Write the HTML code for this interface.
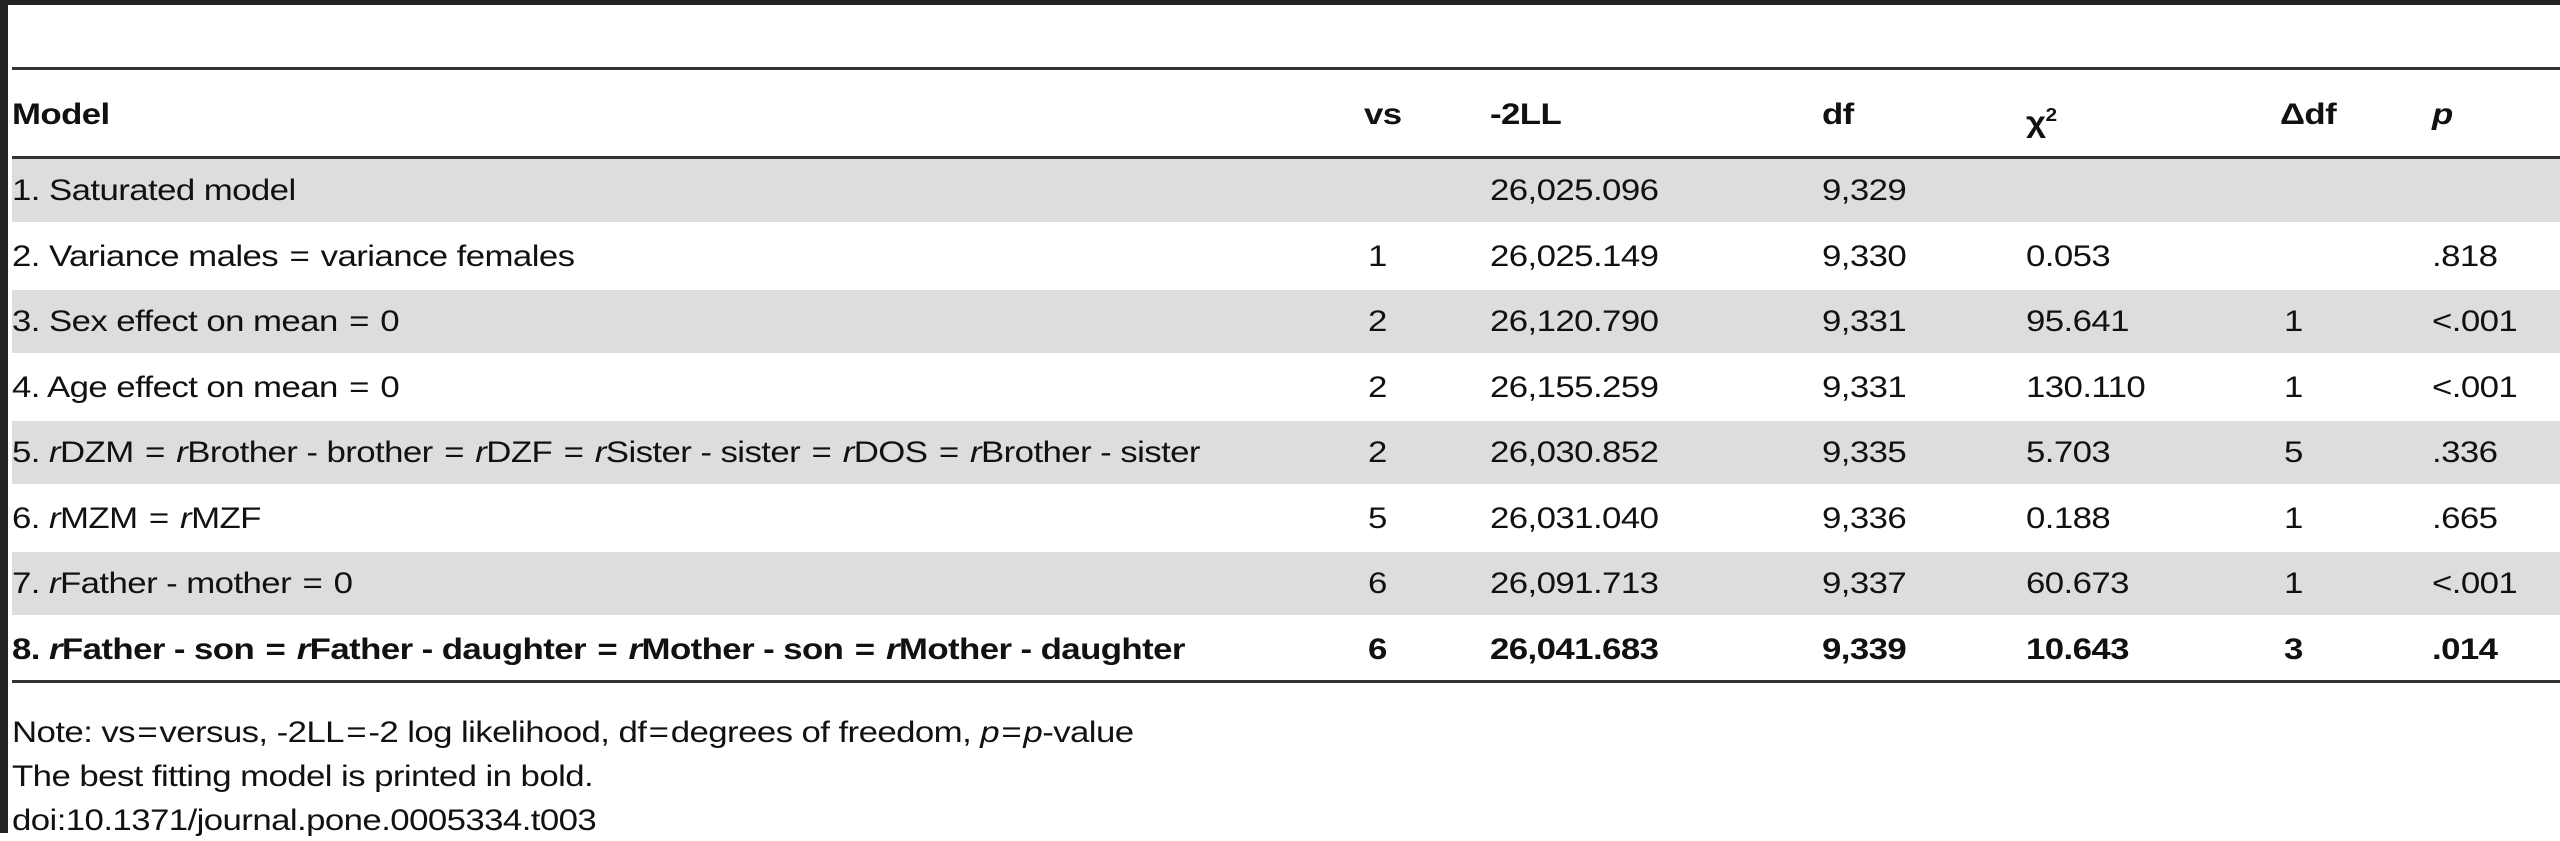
<!DOCTYPE html>
<html><head><meta charset="utf-8"><style>
body{margin:0;width:2560px;height:841px;overflow:hidden;background:#fff;font-family:"Liberation Sans",sans-serif;color:#111;position:relative}
.a{position:absolute;white-space:nowrap}
.t{font-size:30px;letter-spacing:-0.5px;line-height:30px;transform:scaleX(1.16);transform-origin:0 50%}
.hl{position:absolute;left:12px;right:0;height:3px;background:#333}
.row{position:absolute;left:12px;right:0;height:65px}
.g{background:#dcdddf}
.b{font-weight:bold}
.eq{margin:0 2px}
</style></head><body>
<div class="a" style="left:0;top:0;width:2560px;height:5px;background:#222"></div>
<div class="a" style="left:0;top:0;width:8px;height:833px;background:#222"></div>
<div class="hl" style="top:67px"></div>
<div class="hl" style="top:156px"></div>
<div class="hl" style="top:680px"></div>
<div id="hdr"></div>
<div id="body"></div>
<div class="a t" style="left:12px;top:718px">Note: vs<span class="eq">=</span>versus, -2LL<span class="eq">=</span>-2 log likelihood, df<span class="eq">=</span>degrees of freedom, <i>p</i><span class="eq">=</span><i>p</i>-value</div>
<div class="a t" style="left:12px;top:762px">The best fitting model is printed in bold.</div>
<div class="a t" style="left:12px;top:806px">doi:10.1371/journal.pone.0005334.t003</div>
<script>
const colX=[12,1364,1490,1822,2026,2280,2432];
const headers=['Model','vs','-2LL','df','χ<sup style="font-size:18px">2</sup>','Δdf','<i>p</i>'];
const E='<span class="eq">=</span>';
const models=['1. Saturated model','2. Variance males '+E+' variance females','3. Sex effect on mean '+E+' 0','4. Age effect on mean '+E+' 0',
'5. <i>r</i>DZM '+E+' <i>r</i>Brother - brother '+E+' <i>r</i>DZF '+E+' <i>r</i>Sister - sister '+E+' <i>r</i>DOS '+E+' <i>r</i>Brother - sister',
'6. <i>r</i>MZM '+E+' <i>r</i>MZF','7. <i>r</i>Father - mother '+E+' 0',
'8. <i>r</i>Father - son '+E+' <i>r</i>Father - daughter '+E+' <i>r</i>Mother - son '+E+' <i>r</i>Mother - daughter'];
const vs=['','1','2','2','2','5','6','6'];
const ll=['26,025.096','26,025.149','26,120.790','26,155.259','26,030.852','26,031.040','26,091.713','26,041.683'];
const dfs=['9,329','9,330','9,331','9,331','9,335','9,336','9,337','9,339'];
const chi=['','0.053','95.641','130.110','5.703','0.188','60.673','10.643'];
const ddf=['','','1','1','5','1','1','3'];
const pv=['','.818','&lt;.001','&lt;.001','.336','.665','&lt;.001','.014'];
const hdr=document.getElementById('hdr');
headers.forEach((h,i)=>{const d=document.createElement('div');d.className='a t b';d.style.left=colX[i]+'px';d.style.top='100px';d.innerHTML=h;


hdr.appendChild(d);});
const body=document.getElementById('body');
for(let r=0;r<8;r++){
 const top=159+r*65.5;
 const row=document.createElement('div');row.className='row'+(r%2==0?' g':'');row.style.top=top+'px';row.style.height=(r%2==0?63:65)+'px';
 
 
 body.appendChild(row);
 const vals=[models[r],vs[r],ll[r],dfs[r],chi[r],ddf[r],pv[r]];
 vals.forEach((v,i)=>{const d=document.createElement('div');d.className='a t'+(r==7?' b':'');d.style.left=(colX[i]+(i==1||i==5?4:0))+'px';d.style.top=(top+17)+'px';d.innerHTML=v;
 
 
 body.appendChild(d);});
}
</script>
</body></html>
